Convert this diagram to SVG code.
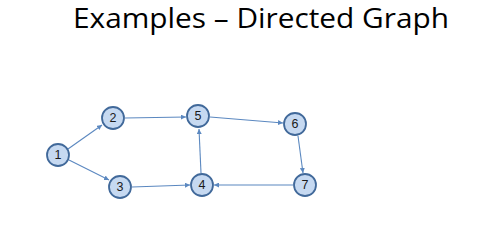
<svg xmlns="http://www.w3.org/2000/svg" width="495" height="242" viewBox="0 0 495 242">
  <style>
    .title { font-family: "Open Sans", "Liberation Sans", sans-serif; font-size: 27px; fill: #000; }
    .node circle { fill: #c6d9f1; stroke: #41699a; stroke-width: 1.8; }
    .node text { font-family: "Liberation Sans", Arial, sans-serif; font-size: 12.5px; fill: #1a1a1a; text-anchor: middle; dominant-baseline: central; }
    .edge { stroke: #5b88c0; stroke-width: 1.1; fill: none; marker-end: url(#arrow); }
  </style>
  <defs>
    <marker id="arrow" viewBox="0 0 10 10" refX="10" refY="5" markerWidth="5" markerHeight="5" orient="auto" markerUnits="userSpaceOnUse">
      <path d="M0,0 L10,5 L0,10 z" fill="#5b88c0"/>
    </marker>
  </defs>
  <rect width="495" height="242" fill="#fff"/>
  <text class="title" x="73" y="28" textLength="376" lengthAdjust="spacingAndGlyphs">Examples – Directed Graph</text>

  <g id="connectors">
    <line class="edge" x1="68" y1="149" x2="102" y2="125"/>
    <line class="edge" x1="69" y1="160" x2="109" y2="180"/>
    <line class="edge" x1="125" y1="118" x2="186" y2="117"/>
    <line class="edge" x1="132" y1="187" x2="190" y2="185"/>
    <line class="edge" x1="201" y1="173" x2="199" y2="129"/>
    <line class="edge" x1="210" y1="117" x2="283" y2="123"/>
    <line class="edge" x1="298" y1="136" x2="303" y2="173"/>
    <line class="edge" x1="293" y1="185" x2="214" y2="185"/>
  </g>

  <g id="node1" class="node"><circle cx="58" cy="155" r="11"/><text x="58" y="155">1</text></g>
  <g id="node2" class="node"><circle cx="113" cy="118" r="11"/><text x="113" y="118">2</text></g>
  <g id="node3" class="node"><circle cx="120" cy="187" r="11"/><text x="120" y="187">3</text></g>
  <g id="node4" class="node"><circle cx="202" cy="185" r="11"/><text x="202" y="185">4</text></g>
  <g id="node5" class="node"><circle cx="198" cy="116" r="11"/><text x="198" y="116">5</text></g>
  <g id="node6" class="node"><circle cx="295" cy="124" r="11"/><text x="295" y="124">6</text></g>
  <g id="node7" class="node"><circle cx="305" cy="185" r="11"/><text x="305" y="185">7</text></g>
</svg>
